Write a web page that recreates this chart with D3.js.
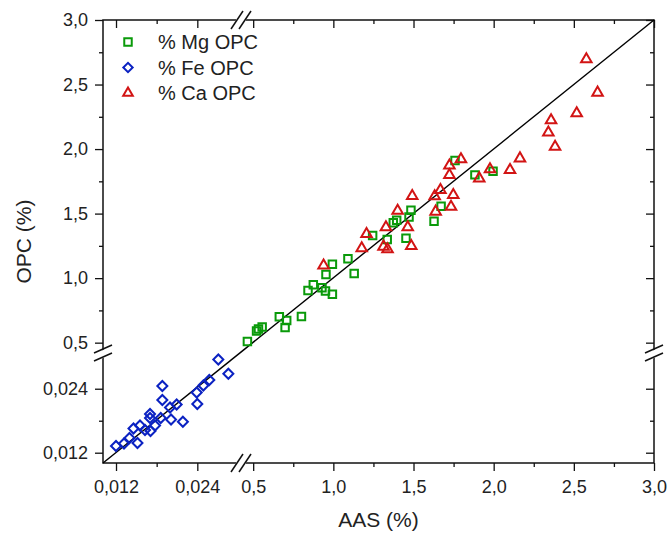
<!DOCTYPE html>
<html>
<head>
<meta charset="utf-8">
<script src="https://cdn.jsdelivr.net/npm/d3@7"></script>
<style>
  body { margin: 0; background: #fff; }
  text { font-family: "Liberation Sans", Arial, sans-serif; fill: #222; }
</style>
</head>
<body>
<div id="chart"></div>
<script>
// AAS (x) vs OPC (y), values in %
const mgX = [0.464, 0.521, 0.533, 0.556, 0.663, 0.709, 0.699, 0.801, 0.842, 0.875, 0.929, 0.951, 0.994, 0.954, 0.994,
  1.091, 1.13, 1.245, 1.336, 1.374, 1.395, 1.453, 1.472, 1.484, 1.628, 1.672, 1.759, 1.883, 1.996]
const mgY = [0.509, 0.591, 0.606, 0.622, 0.701, 0.671, 0.618, 0.702, 0.905, 0.948, 0.925, 0.901, 0.875, 1.029, 1.107,
  1.151, 1.035, 1.331, 1.300, 1.429, 1.448, 1.309, 1.474, 1.526, 1.441, 1.557, 1.911, 1.80, 1.828]

const feX = [0.0120, 0.01318, 0.01399, 0.01458, 0.01517, 0.01554, 0.01628, 0.01702, 0.01702, 0.01709, 0.01776, 0.01884,
  0.01884, 0.01860, 0.01997, 0.02012, 0.02095, 0.02187, 0.02391, 0.02400, 0.02489, 0.02577, 0.02710, 0.02858]
const feY = [0.01326, 0.01373, 0.01476, 0.01654, 0.01382, 0.0171, 0.01626, 0.01926, 0.01851, 0.01607, 0.0171, 0.02451,
  0.02188, 0.01851, 0.02048, 0.01823, 0.02104, 0.01781, 0.02329, 0.02113, 0.0246, 0.02563, 0.02948, 0.02681]

const caX = [0.939, 1.177, 1.207, 1.313, 1.338, 1.328, 1.401, 1.464, 1.486, 1.492, 1.638, 1.632, 1.668, 1.734, 1.748,
  1.724, 1.724, 1.796, 1.910, 1.977, 2.102, 2.164, 2.341, 2.358, 2.383, 2.518, 2.578, 2.648]
const caY = [1.098, 1.231, 1.342, 1.244, 1.224, 1.394, 1.522, 1.394, 1.249, 1.636, 1.515, 1.634, 1.683, 1.553, 1.644,
  1.799, 1.873, 1.921, 1.773, 1.843, 1.838, 1.928, 2.128, 2.223, 2.018, 2.277, 2.696, 2.437]

// 1:1 line
const fitX = [0.01008, 3.0]
const fitY = [0.01007, 3.0]

const seriesNames = ['% Mg OPC', '% Fe OPC', '% Ca OPC']

const lowTicks = [0.012, 0.024]
const lowMinor = [0.018]
const highTicks = [0.5, 1.0, 1.5, 2.0, 2.5, 3.0]
const highMinor = [0.75, 1.25, 1.75, 2.25, 2.75]

const width = 668
const height = 533
const pLeft = 103, pRight = 654, pTop = 20, pBottom = 463
const xBreak = 241, yBreak = 353

const svg = d3.select('#chart')
  .append('svg')
    .attr('width', width)
    .attr('height', height)

// broken scales: low segment + high segment
const xScale = d3.scaleLinear()
  .domain([0.01008, 0.0303, 0.424, 3.0])
  .range([pLeft, xBreak - 1, xBreak, pRight])

const yScale = d3.scaleLinear()
  .domain([0.01007, 0.0307, 0.42, 3.0])
  .range([pBottom, yBreak, yBreak - 0.01, pTop])

const loc = d3.formatLocale({ decimal: ',', thousands: '.', grouping: [3], currency: ['', ''] })
const fmt = d => d < 0.1 ? loc.format('.3f')(d) : loc.format('.1f')(d)

const green = '#0a9a0a', blue = '#0b22c2', red = '#d21414'

function styleAxis(g) {
  g.select('.domain').remove()
  g.selectAll('line').attr('stroke', '#111').attr('stroke-width', 1.3)
  g.selectAll('text').style('font-size', '18px').attr('fill', '#222')
}

const xMajor = lowTicks.concat(highTicks)
const xMinor = lowMinor.concat(highMinor)
const yMajor = lowTicks.concat(highTicks)
const yMinor = lowMinor.concat(highMinor)

// bottom (outward)
svg.append('g').attr('transform', 'translate(0,' + pBottom + ')')
  .call(d3.axisBottom(xScale).tickValues(xMajor).tickSize(8).tickPadding(9).tickFormat(fmt))
  .call(styleAxis)
svg.append('g').attr('transform', 'translate(0,' + pBottom + ')')
  .call(d3.axisBottom(xScale).tickValues(xMinor).tickSize(4).tickFormat(''))
  .call(styleAxis)
// top (inward)
svg.append('g').attr('transform', 'translate(0,' + pTop + ')')
  .call(d3.axisBottom(xScale).tickValues(xMajor).tickSize(8).tickFormat(''))
  .call(styleAxis)
svg.append('g').attr('transform', 'translate(0,' + pTop + ')')
  .call(d3.axisBottom(xScale).tickValues(xMinor).tickSize(4).tickFormat(''))
  .call(styleAxis)
// left (outward)
svg.append('g').attr('transform', 'translate(' + pLeft + ',0)')
  .call(d3.axisLeft(yScale).tickValues(yMajor).tickSize(8).tickPadding(7).tickFormat(fmt))
  .call(styleAxis)
svg.append('g').attr('transform', 'translate(' + pLeft + ',0)')
  .call(d3.axisLeft(yScale).tickValues(yMinor).tickSize(4).tickFormat(''))
  .call(styleAxis)
// right (inward)
svg.append('g').attr('transform', 'translate(' + pRight + ',0)')
  .call(d3.axisLeft(yScale).tickValues(yMajor).tickSize(8).tickFormat(''))
  .call(styleAxis)
svg.append('g').attr('transform', 'translate(' + pRight + ',0)')
  .call(d3.axisLeft(yScale).tickValues(yMinor).tickSize(4).tickFormat(''))
  .call(styleAxis)

// frame
svg.append('rect')
  .attr('x', pLeft).attr('y', pTop)
  .attr('width', pRight - pLeft).attr('height', pBottom - pTop)
  .attr('fill', 'none').attr('stroke', '#111').attr('stroke-width', 1.5)

// 1:1 line
const line = d3.line().x(d => xScale(d[0])).y(d => yScale(d[1]))
svg.append('path')
  .datum(d3.zip(fitX, fitY))
  .attr('d', line)
  .attr('fill', 'none').attr('stroke', '#000').attr('stroke-width', 1.4)

// markers
const sq = d3.symbol().type(d3.symbolSquare).size(56)
const dia = d3.symbol().type(d3.symbolSquare).size(50)
const tri = d3.symbol().type(d3.symbolTriangle).size(48)

svg.append('g').selectAll('path')
  .data(d3.zip(mgX, mgY)).enter()
  .append('path')
    .attr('d', sq)
    .attr('transform', d => 'translate(' + xScale(d[0]) + ',' + yScale(d[1]) + ')')
    .attr('fill', 'none').attr('stroke', green).attr('stroke-width', 2)

svg.append('g').selectAll('path')
  .data(d3.zip(feX, feY)).enter()
  .append('path')
    .attr('d', dia)
    .attr('transform', d => 'translate(' + xScale(d[0]) + ',' + yScale(d[1]) + ') rotate(45)')
    .attr('fill', 'none').attr('stroke', blue).attr('stroke-width', 2)

svg.append('g').selectAll('path')
  .data(d3.zip(caX, caY)).enter()
  .append('path')
    .attr('d', tri)
    .attr('transform', d => 'translate(' + xScale(d[0]) + ',' + yScale(d[1]) + ')')
    .attr('fill', 'none').attr('stroke', red).attr('stroke-width', 2)

// axis breaks
function xBreakMark(cy) {
  const g = svg.append('g')
  g.append('polygon')
    .attr('points', [[xBreak - 8, cy + 9], [xBreak - 2, cy - 9], [xBreak + 8, cy - 9], [xBreak + 2, cy + 9]].join(' '))
    .attr('fill', '#fff')
  ;[-4, 4].forEach(o => {
    g.append('line')
      .attr('x1', xBreak + o - 6).attr('y1', cy + 9)
      .attr('x2', xBreak + o + 6).attr('y2', cy - 9)
      .attr('stroke', '#111').attr('stroke-width', 1.5)
  })
}
function yBreakMark(cx) {
  const g = svg.append('g')
  g.append('polygon')
    .attr('points', [[cx - 9, yBreak + 1], [cx + 9, yBreak - 7], [cx + 9, yBreak + 1], [cx - 9, yBreak + 9]].join(' '))
    .attr('fill', '#fff')
  ;[-4, 4].forEach(o => {
    g.append('line')
      .attr('x1', cx - 9).attr('y1', yBreak + o + 4)
      .attr('x2', cx + 9).attr('y2', yBreak + o - 4)
      .attr('stroke', '#111').attr('stroke-width', 1.5)
  })
}
xBreakMark(pBottom)
xBreakMark(pTop)
yBreakMark(pLeft)
yBreakMark(pRight)

// legend
const legendSym = [sq, d3.symbol().type(d3.symbolSquare).size(44), d3.symbol().type(d3.symbolTriangle).size(40)]
const legendCol = [green, blue, red]
const legend = svg.append('g')
seriesNames.forEach((name, i) => {
  const y = 42 + i * 25.5
  legend.append('path')
    .attr('d', legendSym[i])
    .attr('transform', 'translate(128,' + y + ')' + (i === 1 ? ' rotate(45)' : ''))
    .attr('fill', 'none').attr('stroke', legendCol[i]).attr('stroke-width', 2)
  legend.append('text')
    .attr('x', 158).attr('y', y).attr('dy', '0.36em')
    .style('font-size', '20px')
    .text(name)
})

// axis titles
svg.append('text')
  .attr('x', (pLeft + pRight) / 2)
  .attr('y', 527)
  .attr('text-anchor', 'middle')
  .style('font-size', '21px')
  .text('AAS (%)')

svg.append('text')
  .attr('transform', 'translate(31,' + ((pTop + pBottom) / 2) + ') rotate(-90)')
  .attr('text-anchor', 'middle')
  .style('font-size', '21px')
  .text('OPC (%)')
</script>
</body>
</html>
